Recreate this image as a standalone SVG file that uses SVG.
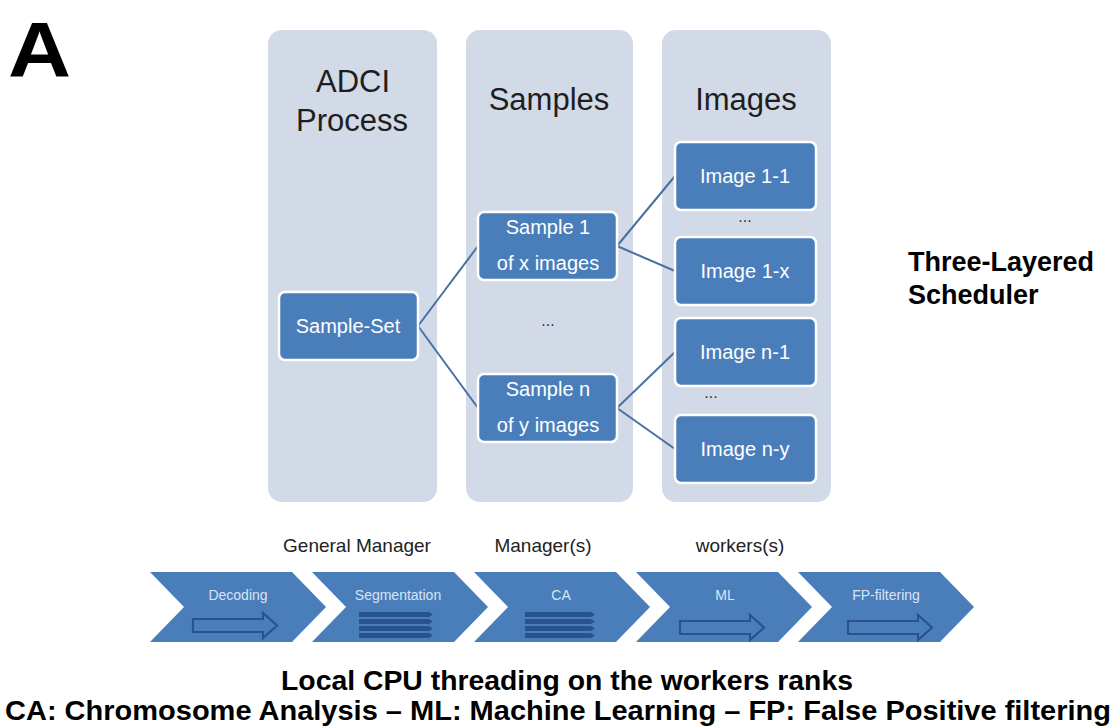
<svg xmlns="http://www.w3.org/2000/svg" width="1116" height="727" viewBox="0 0 1116 727">
<style>
.col{fill:#d2d9e7}
.box{fill:#4a7ebb;stroke:#ffffff;stroke-width:2.5}
.t{font-family:"Liberation Sans",Arial,sans-serif;text-anchor:middle}
.title{font-size:31px;fill:#1e1e1e}
.bt{font-size:20px;fill:#ffffff}
.dots{font-size:16px;fill:#333}
.lbl{font-size:19px;fill:#222}
.chev{fill:#4a7ebb}
.ct{font-size:14px;fill:#d9e4f2}
.bold{font-family:"Liberation Sans",Arial,sans-serif;font-weight:bold;fill:#000}
.conn{stroke:#4a6fa3;stroke-width:2;fill:none}
.icon{fill:none;stroke:#2a538e;stroke-width:2.2}
.bar{fill:#2a538e}
</style>
<rect width="1116" height="727" fill="#ffffff"/>
<text class="bold" x="0" y="0" font-size="78" transform="translate(8,77) scale(1.12,1)">A</text>

<g id="col-adci"><rect class="col" x="268" y="30" width="169" height="472" rx="14"/>
<text class="t title" x="353" y="92">ADCI</text><text class="t title" x="352" y="131">Process</text></g>
<g id="col-samples"><rect class="col" x="466" y="30" width="167" height="472" rx="14"/>
<text class="t title" x="549" y="110">Samples</text></g>
<g id="col-images"><rect class="col" x="662" y="30" width="169" height="472" rx="14"/>
<text class="t title" x="746" y="110">Images</text></g>

<g id="connectors">
<line class="conn" x1="418" y1="326" x2="478" y2="246"/>
<line class="conn" x1="418" y1="326" x2="478" y2="408"/>
<line class="conn" x1="617" y1="246" x2="675" y2="176"/>
<line class="conn" x1="617" y1="246" x2="675" y2="271"/>
<line class="conn" x1="617" y1="408" x2="675" y2="352"/>
<line class="conn" x1="617" y1="408" x2="675" y2="449"/>
</g>

<g id="sample-set"><rect class="box" x="279" y="292" width="139" height="68" rx="6"/>
<text class="t bt" x="348" y="333">Sample-Set</text></g>
<g id="sample-1"><rect class="box" x="478" y="212" width="139" height="68" rx="6"/>
<text class="t bt" x="548" y="234">Sample 1</text><text class="t bt" x="548" y="270">of x images</text></g>
<text class="t dots" x="548" y="326">...</text>
<g id="sample-n"><rect class="box" x="478" y="374" width="139" height="68" rx="6"/>
<text class="t bt" x="548" y="396">Sample n</text><text class="t bt" x="548" y="432">of y images</text></g>

<g id="image-1-1"><rect class="box" x="675" y="142" width="141" height="68" rx="6"/>
<text class="t bt" x="745" y="183">Image 1-1</text></g>
<text class="t dots" x="745" y="222">...</text>
<g id="image-1-x"><rect class="box" x="675" y="237" width="141" height="68" rx="6"/>
<text class="t bt" x="745" y="278">Image 1-x</text></g>
<g id="image-n-1"><rect class="box" x="675" y="318" width="141" height="68" rx="6"/>
<text class="t bt" x="745" y="359">Image n-1</text></g>
<text class="t dots" x="711" y="398">...</text>
<g id="image-n-y"><rect class="box" x="675" y="415" width="141" height="68" rx="6"/>
<text class="t bt" x="745" y="456">Image n-y</text></g>

<text class="bold" x="908" y="271" font-size="27">Three-Layered</text>
<text class="bold" x="908" y="304" font-size="27">Scheduler</text>

<text class="t lbl" x="357" y="552">General Manager</text>
<text class="t lbl" x="543" y="552">Manager(s)</text>
<text class="t lbl" x="740" y="552">workers(s)</text>

<g id="decoding"><polygon class="chev" points="150,572 292,572 326,607 292,642 150,642 184,607"/>
<text class="t ct" x="238" y="600">Decoding</text>
<polygon class="icon" points="193,619 263,619 263,613 277,625.5 263,638 263,632 193,632"/></g>
<g id="segmentation"><polygon class="chev" points="312,572 454,572 488,607 454,642 312,642 346,607"/>
<text class="t ct" x="398" y="600">Segmentation</text>
<g class="bar"><rect x="359" y="612" width="70" height="5"/><rect x="359" y="619" width="70" height="5"/><rect x="359" y="626" width="70" height="5"/><rect x="359" y="633" width="70" height="5"/>
<polygon points="429,612 433,614.5 429,617"/><polygon points="429,619 433,621.5 429,624"/><polygon points="429,626 433,628.5 429,631"/><polygon points="429,633 433,635.5 429,638"/></g></g>
<g id="ca"><polygon class="chev" points="474,572 616,572 650,607 616,642 474,642 508,607"/>
<text class="t ct" x="561" y="600">CA</text>
<g class="bar"><rect x="525" y="612" width="66" height="5"/><rect x="525" y="619" width="66" height="5"/><rect x="525" y="626" width="66" height="5"/><rect x="525" y="633" width="66" height="5"/>
<polygon points="591,612 595,614.5 591,617"/><polygon points="591,619 595,621.5 591,624"/><polygon points="591,626 595,628.5 591,631"/><polygon points="591,633 595,635.5 591,638"/></g></g>
<g id="ml"><polygon class="chev" points="636,572 778,572 812,607 778,642 636,642 670,607"/>
<text class="t ct" x="725" y="600">ML</text>
<polygon class="icon" points="680,621 750,621 750,615 764,627.5 750,640 750,634 680,634"/></g>
<g id="fp-filtering"><polygon class="chev" points="798,572 940,572 974,607 940,642 798,642 832,607"/>
<text class="t ct" x="886" y="600">FP-filtering</text>
<polygon class="icon" points="848,621 918,621 918,615 932,627.5 918,640 918,634 848,634"/></g>

<text class="bold" x="567" y="690" font-size="27" text-anchor="middle" textLength="572" lengthAdjust="spacingAndGlyphs">Local CPU threading on the workers ranks</text>
<text class="bold" x="558" y="720" font-size="27" text-anchor="middle" textLength="1106" lengthAdjust="spacingAndGlyphs">CA: Chromosome Analysis – ML: Machine Learning – FP: False Positive filtering</text>
</svg>
